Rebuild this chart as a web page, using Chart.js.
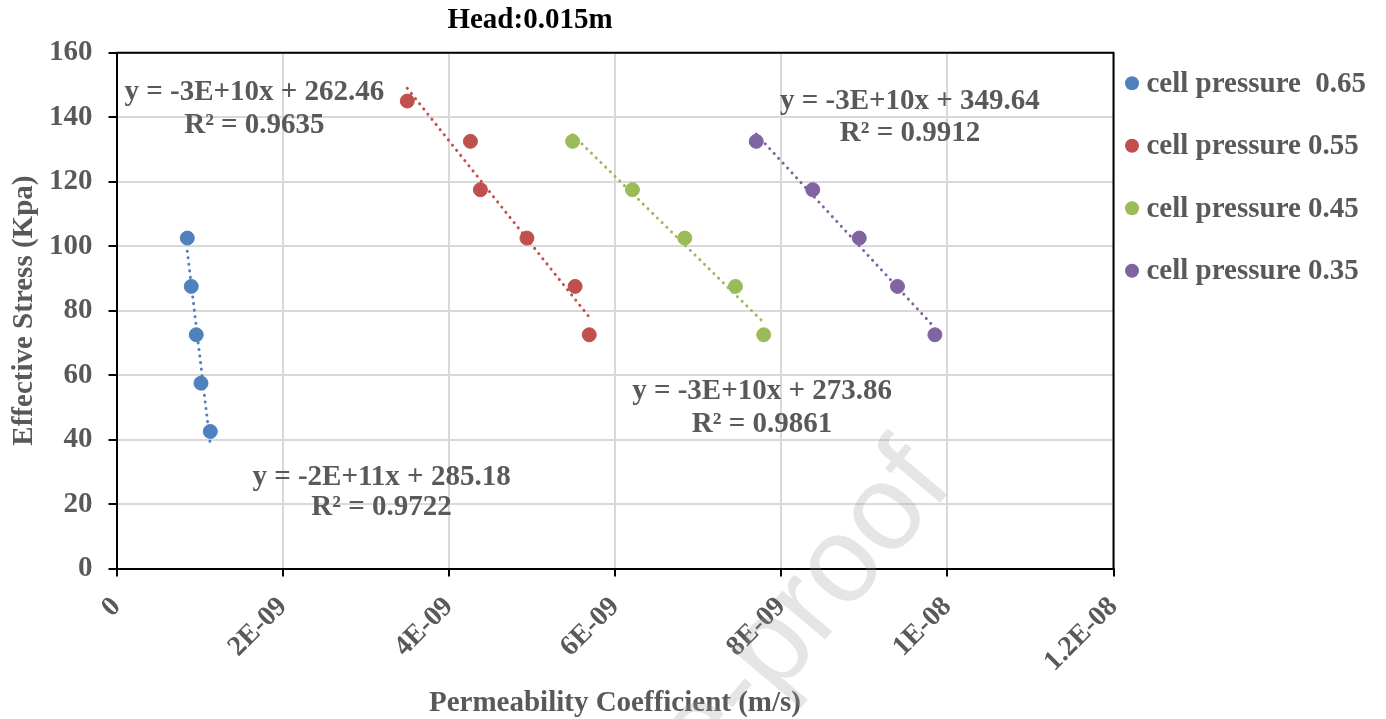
<!DOCTYPE html>
<html>
<head>
<meta charset="utf-8">
<script src="https://cdn.jsdelivr.net/npm/chart.js@4.4.1/dist/chart.umd.min.js"></script>
<style>
  html, body { margin: 0; padding: 0; background: #fff; }
  #wrap { width: 1386px; height: 719px; }
</style>
</head>
<body>
<div id="wrap"><canvas id="chart" width="1386" height="719"></canvas></div>
<script>
// series
const seriesLabels = ['cell pressure  0.65', 'cell pressure 0.55', 'cell pressure 0.45', 'cell pressure 0.35'];
const seriesColors = ['#4F81BD', '#C0504D', '#9BBB59', '#8064A2'];

const perm065 = [8.52e-10, 9.0e-10, 9.6e-10, 1.017e-9, 1.129e-9];
const stress065 = [102.5, 87.5, 72.5, 57.5, 42.5];
const perm055 = [3.50e-9, 4.26e-9, 4.38e-9, 4.94e-9, 5.52e-9, 5.69e-9];
const stress055 = [145, 132.5, 117.5, 102.5, 87.5, 72.5];
const perm045 = [5.49e-9, 6.21e-9, 6.84e-9, 7.45e-9, 7.79e-9];
const stress045 = [132.5, 117.5, 102.5, 87.5, 72.5];
const perm035 = [7.70e-9, 8.38e-9, 8.94e-9, 9.40e-9, 9.85e-9];
const stress035 = [132.5, 117.5, 102.5, 87.5, 72.5];

const eqTexts = ['y = -2E+11x + 285.18', 'y = -3E+10x + 262.46', 'y = -3E+10x + 273.86', 'y = -3E+10x + 349.64'];
const r2Texts = ['R² = 0.9722', 'R² = 0.9635', 'R² = 0.9861', 'R² = 0.9912'];

const xMin = 0, xMax = 1.2e-8, xStep = 2e-9;
const yMin = 0, yMax = 160, yStep = 20;

const chartTitle = 'Head:0.015m';
const xTitle = 'Permeability Coefficient (m/s)';
const yTitle = 'Effective Stress (Kpa)';

// where each equation label sits, in data units (centre x, line 1 y, line 2 y)
const eqPos = [
  [3.19e-9, 28.1, 18.8],
  [1.66e-9, 147.7, 137.5],
  [7.77e-9, 55.0, 44.8],
  [9.55e-9, 145.0, 135.0]
];

const FONT = '"Liberation Serif", "Times New Roman", serif';
const GREY = '#595959';

const xs = [perm065, perm055, perm045, perm035];
const ys = [stress065, stress055, stress045, stress035];

// least squares trend line, drawn over the data range like Excel does
function trend(x, y) {
  const n = x.length;
  let sx = 0, sy = 0, sxx = 0, sxy = 0;
  for (let i = 0; i < n; i++) { sx += x[i]; sy += y[i]; sxx += x[i] * x[i]; sxy += x[i] * y[i]; }
  const m = (n * sxy - sx * sy) / (n * sxx - sx * sx);
  const b = (sy - m * sx) / n;
  const lo = Math.min(...x), hi = Math.max(...x);
  return [{x: lo, y: m * lo + b}, {x: hi, y: m * hi + b}];
}

function sci(v) {
  if (Math.abs(v) < 1e-15) return '0';
  const s = Number(v.toPrecision(6)).toExponential();
  const parts = s.split('e');
  const e = parseInt(parts[1], 10);
  return parts[0] + 'E' + (e < 0 ? '-' : '+') + String(Math.abs(e)).padStart(2, '0');
}

const datasets = [];
for (let i = 0; i < 4; i++) {
  datasets.push({
    type: 'line',
    label: seriesLabels[i] + ' trend',
    data: trend(xs[i], ys[i]),
    borderColor: seriesColors[i],
    borderWidth: 3,
    borderDash: [0.1, 6.5],
    borderCapStyle: 'round',
    pointRadius: 0,
    fill: false,
    order: 0
  });
}
for (let i = 0; i < 4; i++) {
  datasets.push({
    type: 'scatter',
    label: seriesLabels[i],
    data: xs[i].map((x, j) => ({x: x, y: ys[i][j]})),
    backgroundColor: seriesColors[i],
    borderColor: seriesColors[i],
    pointRadius: 7,
    pointHoverRadius: 7,
    order: 1
  });
}

const framePlugin = {
  id: 'frame',
  beforeDatasetsDraw(chart) {
    const a = chart.chartArea, ctx = chart.ctx;
    ctx.save();
    ctx.strokeStyle = '#000';
    ctx.lineWidth = 2;
    ctx.beginPath();
    ctx.moveTo(a.left, a.top);
    ctx.lineTo(a.right, a.top);
    ctx.lineTo(a.right, a.bottom);
    ctx.stroke();
    ctx.restore();
  }
};

const extrasPlugin = {
  id: 'extras',
  afterDraw(chart) {
    const ctx = chart.ctx, a = chart.chartArea;
    const sx = chart.scales.x, sy = chart.scales.y;
    ctx.save();
    ctx.font = 'bold 29px ' + FONT;
    ctx.fillStyle = GREY;
    ctx.textAlign = 'center';
    ctx.textBaseline = 'middle';
    eqPos.forEach((p, i) => {
      const px = sx.getPixelForValue(p[0]);
      ctx.fillText(eqTexts[i], px, sy.getPixelForValue(p[1]));
      ctx.fillText(r2Texts[i], px, sy.getPixelForValue(p[2]));
    });

    // title
    ctx.fillStyle = '#000';
    ctx.fillText(chartTitle, 530, 21);

    // legend
    ctx.textAlign = 'left';
    for (let i = 0; i < 4; i++) {
      const cy = a.top + 30.6 + i * 62.5;
      ctx.fillStyle = seriesColors[i];
      ctx.beginPath();
      ctx.arc(a.right + 18.5, cy, 7, 0, Math.PI * 2);
      ctx.fill();
      ctx.fillStyle = GREY;
      ctx.fillText(seriesLabels[i], a.right + 33, cy + 1);
    }

    // faint watermark
    ctx.translate(955, 485);
    ctx.rotate(-50 * Math.PI / 180);
    ctx.font = '122px "Liberation Sans", Arial, sans-serif';
    ctx.textAlign = 'right';
    ctx.textBaseline = 'alphabetic';
    ctx.fillStyle = 'rgba(150,150,150,0.25)';
    ctx.fillText('Journal Pre-proof', 0, 0);
    ctx.restore();
  }
};

new Chart(document.getElementById('chart'), {
  type: 'scatter',
  data: { datasets: datasets },
  options: {
    responsive: false,
    animation: false,
    layout: { padding: { top: 52.7, right: 272.5, left: 0, bottom: 0 } },
    plugins: {
      legend: { display: false },
      title: { display: false },
      tooltip: { enabled: false }
    },
    scales: {
      x: {
        type: 'linear',
        min: xMin,
        max: xMax,
        afterFit(scale) { scale.height = 150.5; },
        ticks: {
          stepSize: xStep,
          minRotation: 45,
          maxRotation: 45,
          padding: 14,
          color: GREY,
          font: { family: FONT, size: 28, weight: 'bold' },
          callback: (v) => sci(v)
        },
        grid: { color: '#d9d9d9', lineWidth: 2, tickColor: '#000', tickLength: 8, tickWidth: 2 },
        border: { color: '#000', width: 2 },
        title: {
          display: true,
          text: xTitle,
          color: GREY,
          font: { family: FONT, size: 29, weight: 'bold', lineHeight: 1.05 },
          padding: { top: 0, bottom: 0 }
        }
      },
      y: {
        min: yMin,
        max: yMax,
        afterFit(scale) { scale.width = 116.5; },
        ticks: {
          stepSize: yStep,
          padding: 16,
          color: GREY,
          font: { family: FONT, size: 29, weight: 'bold' }
        },
        grid: { color: '#d9d9d9', lineWidth: 2, tickColor: '#000', tickLength: 8, tickWidth: 2 },
        border: { color: '#000', width: 2 },
        title: {
          display: true,
          text: yTitle,
          color: GREY,
          font: { family: FONT, size: 29, weight: 'bold' },
          padding: { top: 7, bottom: 0 }
        }
      }
    }
  },
  plugins: [framePlugin, extrasPlugin]
});
</script>
</body>
</html>
